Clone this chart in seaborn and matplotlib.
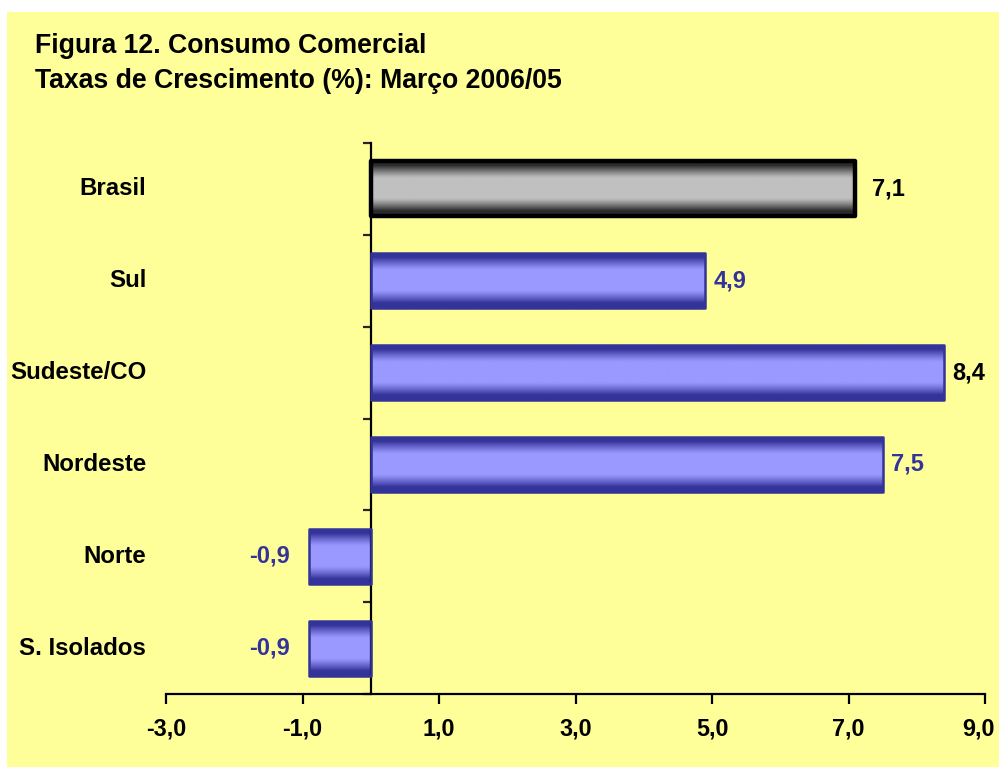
import numpy as np
import pandas as pd
import matplotlib
matplotlib.use("Agg")
import matplotlib.pyplot as plt
from matplotlib.patches import Rectangle
from matplotlib.colors import to_rgb
import seaborn as sns

# Commercial consumption growth rates, March 2006 vs 2005 (%)
categories = ["Brasil", "Sul", "Sudeste/CO", "Nordeste", "Norte", "S. Isolados"]
growth = [7.1, 4.9, 8.4, 7.5, -0.9, -0.9]
x_ticks = [-3, -1, 1, 3, 5, 7, 9]

title_lines = ["Figura 12. Consumo Comercial",
               "Taxas de Crescimento (%): Março 2006/05"]

sns.set_style("ticks")
plt.rcParams["font.family"] = ["Liberation Sans", "DejaVu Sans"]
plt.rcParams["font.weight"] = "bold"

BG = "#FFFF99"
BLUE_LIGHT, BLUE_DARK = "#9999FF", "#333399"
GRAY_LIGHT, GRAY_DARK = "#C0C0C0", "#2a2a2a"
total = "Brasil"
dark_labels = {"Brasil", "Sudeste/CO"}

TICK_LEN, TICK_PAD, TICK_FS = 7, 10, 16.8


def fmt(v):
    return f"{v:.1f}".replace(".", ",")


def shade(light, dark, n=128):
    """Vertical cylinder-like shading: dark at top and bottom, light in the middle."""
    t = np.abs(np.linspace(-1, 1, n))
    w = np.clip((t - 0.36) / 0.46, 0, 1) ** 1.2
    lo, hi = np.array(to_rgb(light)), np.array(to_rgb(dark))
    rgb = lo[None, :] * (1 - w[:, None]) + hi[None, :] * w[:, None]
    return rgb[:, None, :]


df = pd.DataFrame({"regiao": categories, "taxa": growth})
fills = {c: (GRAY_LIGHT if c == total else BLUE_LIGHT) for c in categories}

fig = plt.figure(figsize=(9.99, 7.67), dpi=100)
fig.patches.append(Rectangle((7 / 999, 0), 992 / 999, 755 / 767,
                             transform=fig.transFigure, facecolor=BG,
                             edgecolor="none", zorder=-10))

ax = fig.add_axes([166 / 999, 73 / 767, 819 / 999, 551 / 767])
ax.set_facecolor("none")

sns.barplot(data=df, x="taxa", y="regiao", hue="regiao", palette=fills,
            orient="h", width=0.6, saturation=1, legend=False, ax=ax)

xlim = (x_ticks[0], x_ticks[-1])
ylim = (len(categories) - 0.5, -0.5)

# Replace flat fills with shaded gradients clipped to each bar
for patch in list(ax.patches):
    x0, y0 = patch.get_x(), patch.get_y()
    w, h = patch.get_width(), patch.get_height()
    idx = int(round(y0 + h / 2))
    name = categories[idx]
    if name == total:
        img = shade(GRAY_LIGHT, GRAY_DARK)
        ec, lw = "black", 3.2
    else:
        img = shade(BLUE_LIGHT, BLUE_DARK)
        ec, lw = BLUE_DARK, 1.8
    im = ax.imshow(img, extent=(x0, x0 + w, y0 + h, y0), aspect="auto",
                   interpolation="bilinear", zorder=2)
    im.set_clip_path(patch)
    patch.set_facecolor("none")
    patch.set_edgecolor(ec)
    patch.set_linewidth(lw)
    patch.set_joinstyle("round")
    patch.set_zorder(3)

ax.set_xlim(*xlim)
ax.set_ylim(*ylim)

# Value labels
for i, (name, v) in enumerate(zip(categories, growth)):
    extra = 6 if name == total else 0
    off = (6 + extra) if v >= 0 else -14
    ax.annotate(fmt(v), xy=(v, i), xytext=(off, 0), textcoords="offset points",
                ha="left" if v >= 0 else "right", va="center",
                fontsize=17, fontweight="bold",
                color="black" if name in dark_labels else BLUE_DARK)

# Category names to the left of the plotting area
for i, name in enumerate(categories):
    ax.text(-0.024, i, name, transform=ax.get_yaxis_transform(),
            ha="right", va="center", fontsize=17.3, fontweight="bold",
            color="black")

# Axes styling
for s in ("top", "right"):
    ax.spines[s].set_visible(False)
ax.spines["left"].set_position(("data", 0))
for s in ("left", "bottom"):
    ax.spines[s].set_linewidth(1.6)
    ax.spines[s].set_color("black")

# Last x label is drawn separately, nudged inward so it stays inside the figure
tick_labels = [fmt(t) for t in x_ticks[:-1]] + [""]
ax.set_xticks(x_ticks, tick_labels)
ax.annotate(fmt(x_ticks[-1]), xy=(x_ticks[-1], 0), xycoords=ax.get_xaxis_transform(),
            xytext=(-5, -(TICK_LEN + TICK_PAD)), textcoords="offset points",
            ha="center", va="top", fontsize=TICK_FS, fontweight="bold",
            color="black", annotation_clip=False)
ax.set_yticks(np.arange(-0.5, len(categories), 1.0), [""] * (len(categories) + 1))
ax.tick_params(axis="x", direction="out", length=TICK_LEN, width=1.6, pad=TICK_PAD,
               labelsize=TICK_FS, colors="black")
ax.tick_params(axis="y", direction="out", length=6, width=1.6)
for lbl in ax.get_xticklabels():
    lbl.set_fontweight("bold")
ax.set_xlabel("")
ax.set_ylabel("")

fig.text(35 / 999, 1 - 46 / 767, title_lines[0], ha="left", va="center",
         fontsize=19.2, fontweight="bold", color="black")
fig.text(35 / 999, 1 - 81 / 767, title_lines[1], ha="left", va="center",
         fontsize=19.2, fontweight="bold", color="black")

fig.savefig("out.png", dpi=100, facecolor="white")
